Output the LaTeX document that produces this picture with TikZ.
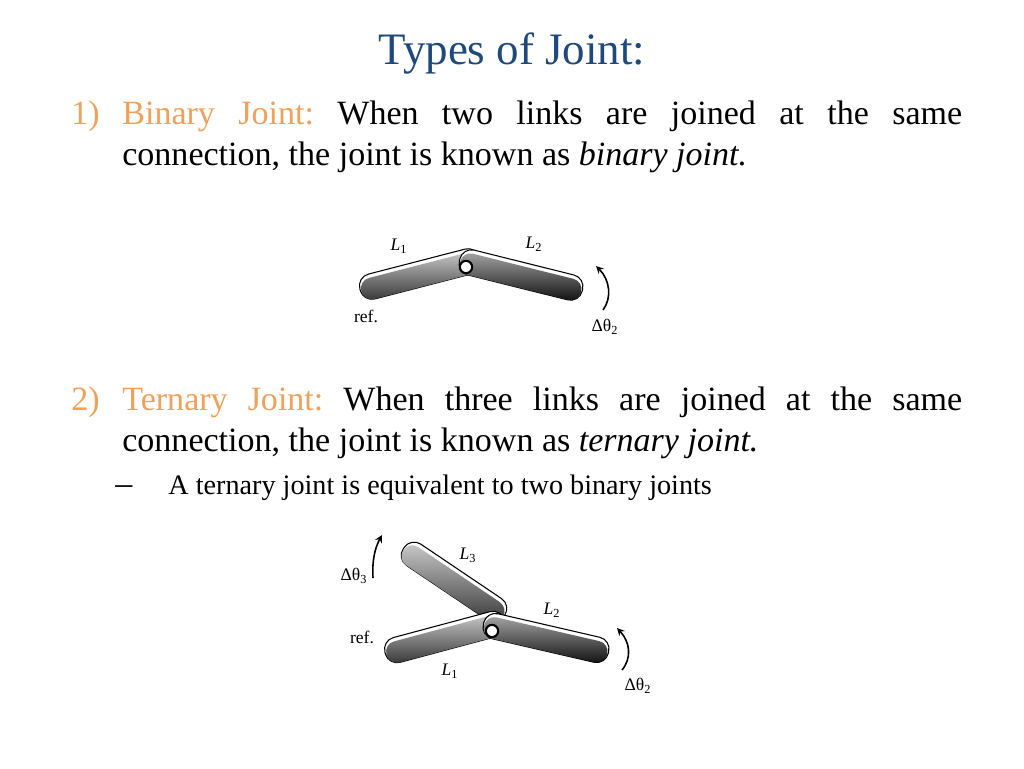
\documentclass[tikz,border=0pt]{standalone}
\usepackage{fontspec}
\setmainfont{Liberation Serif}
\usepackage{tikz}
\usetikzlibrary{calc}

\definecolor{titleblue}{HTML}{1F497D}
\definecolor{headorange}{HTML}{F0A05A}

\tikzset{
  heading/.style={anchor=base,font=\fontsize{25.6}{30}\selectfont,text=titleblue,inner sep=0pt},
  bodytext/.style={anchor=base west,font=\fontsize{19.37}{23}\selectfont,inner sep=0pt},
  subtext/.style={anchor=base west,font=\fontsize{16.05}{19}\selectfont,inner sep=0pt},
  tag/.style={anchor=center,font=\fontsize{10}{12}\selectfont,inner sep=0pt},
  barrim/.style={rectangle,rounded corners=6.8pt,draw=black,line width=.6pt,fill=white,minimum height=14.6pt,inner sep=0pt},
  barbody/.style={rectangle,rounded corners=6pt,minimum height=12.4pt,inner sep=0pt},
  lightbar/.style={top color=gray!40,bottom color=black!80},
  darkbar/.style={top color=gray!70,bottom color=black!95},
  barpin/.style={circle,draw=black,line width=1.2pt,fill=white,minimum size=7pt,inner sep=0pt},
  turn/.style={line width=.9pt,->,>=stealth}
}

% one link: name, centre, length, angle, shade
\newcommand{\linkbar}[5]{
  \node[barrim,minimum width=#3,rotate=#4] (#1) at (#2) {};
  \node[barbody,#5,minimum width=#3-1pt,rotate=#4] (#1s) at ($(#2)+(#4-90:1.1pt)$) {};
}

\begin{document}
\frenchspacing
\begin{tikzpicture}[x=0.02cm,y=-0.02cm]
  \useasboundingbox (0,0) rectangle (1024,768);

  \node[heading] (title) at (512,64) {Types of Joint:};

  \node[bodytext,text=headorange] (num1) at (71,124) {1)};
  \node[bodytext] (line1) at (122,124) {\makebox[16.8cm][s]{\textcolor{headorange}{Binary Joint:} When two links are joined at the same}};
  \node[bodytext] (line2) at (122,165) {connection, the joint is known as \textit{binary joint.}};

  \node[bodytext,text=headorange] (num2) at (71,410) {2)};
  \node[bodytext] (line3) at (122,410) {\makebox[16.8cm][s]{\textcolor{headorange}{Ternary Joint:} When three links are joined at the same}};
  \node[bodytext] (line4) at (122,451) {connection, the joint is known as \textit{ternary joint.}};
  \node[bodytext] (dash) at (115,494) {--};
  \node[subtext] (line5) at (168,494) {A ternary joint is equivalent to two binary joints};

  % binary joint
  \linkbar{bl1}{420,274}{70.5pt}{14.5}{lightbar}
  \linkbar{bl2}{521,275}{72pt}{-14}{darkbar}
  \node[barpin] (bpin) at (466,267) {};
  \node[tag] (bt1) at (399,246) {\textit{L}\textsubscript{1}};
  \node[tag] (bt2) at (534,244) {\textit{L}\textsubscript{2}};
  \node[tag] (bref) at (366,316) {ref.};
  \node[tag] (bang) at (605,327) {Δθ\textsubscript{2}};
  \coordinate (bs) at (603,310);
  \coordinate (be) at (596,266);
  \draw[turn] (bs) .. controls (612,298) and (610,280) .. (be);

  % ternary joint
  \linkbar{tl3}{454,582}{69pt}{-34}{lightbar}
  \linkbar{tl1}{445,637}{70.5pt}{15}{lightbar}
  \linkbar{tl2}{546,638}{73pt}{-13}{darkbar}
  \node[barpin] (tpin) at (492,631) {};
  \node[tag] (tt3) at (468,555) {\textit{L}\textsubscript{3}};
  \node[tag] (tt2) at (552,610) {\textit{L}\textsubscript{2}};
  \node[tag] (tt1) at (450,671) {\textit{L}\textsubscript{1}};
  \node[tag] (tref) at (362,637) {ref.};
  \node[tag] (tang3) at (354,576) {Δθ\textsubscript{3}};
  \node[tag] (tang2) at (638,686) {Δθ\textsubscript{2}};
  \coordinate (ts3) at (373,578);
  \coordinate (te3) at (382,535);
  \draw[turn] (ts3) .. controls (372,560) and (375,548) .. (te3);
  \coordinate (ts2) at (622,670);
  \coordinate (te2) at (617,628);
  \draw[turn] (ts2) .. controls (632,658) and (630,642) .. (te2);
\end{tikzpicture}
\end{document}
